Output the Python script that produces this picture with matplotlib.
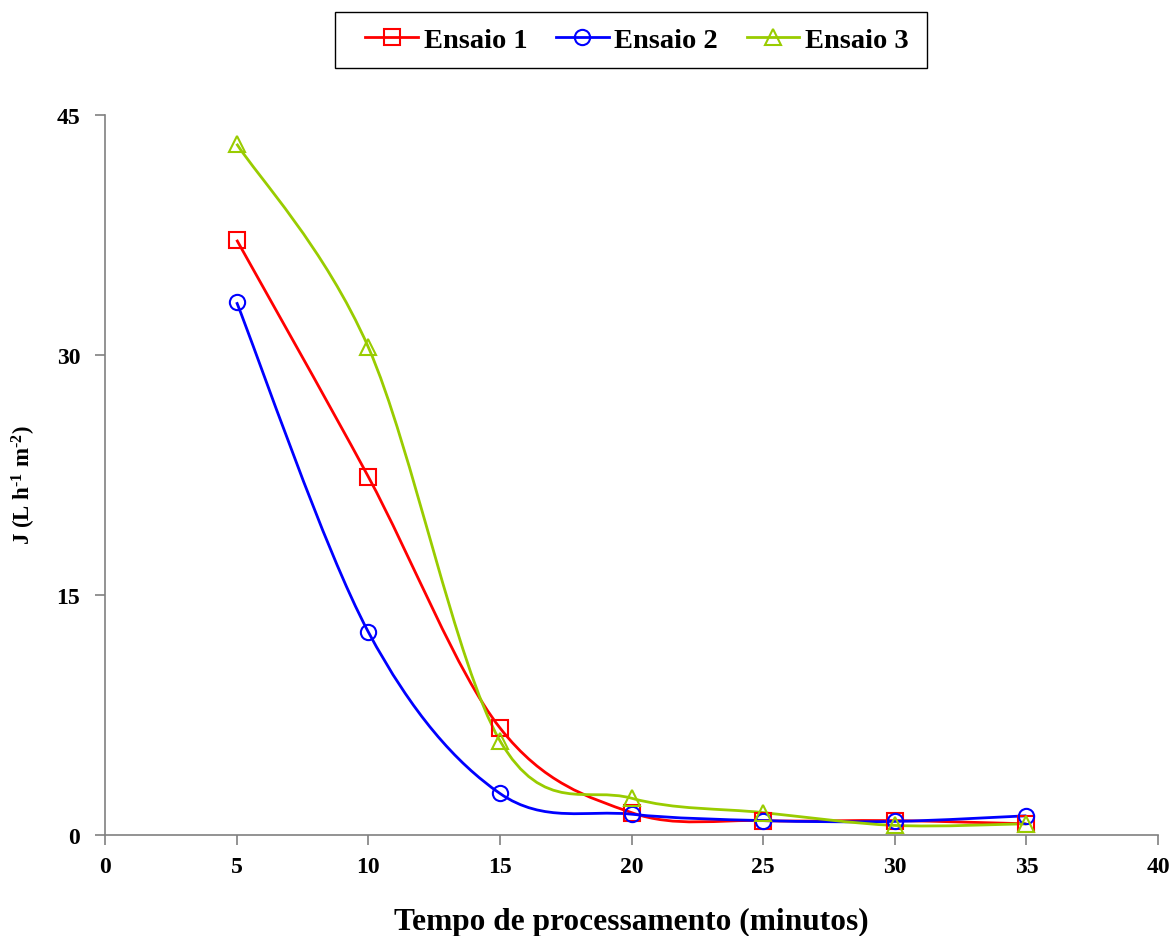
import numpy as np
import matplotlib
matplotlib.use("Agg")
import matplotlib.pyplot as plt
from matplotlib.path import Path
from matplotlib.patches import PathPatch, Rectangle
from matplotlib.lines import Line2D

plt.rcParams['font.family'] = ['Liberation Serif', 'DejaVu Serif']
plt.rcParams['font.weight'] = 'bold'
plt.rcParams['mathtext.fontset'] = 'custom'
plt.rcParams['mathtext.rm'] = 'Liberation Serif:bold'
plt.rcParams['mathtext.it'] = 'Liberation Serif:bold'
plt.rcParams['mathtext.bf'] = 'Liberation Serif:bold'

tempo = [5, 10, 15, 20, 25, 30, 35]
ensaio1 = [37.2, 22.4, 6.7, 1.4, 0.9, 0.9, 0.7]
ensaio2 = [33.3, 12.7, 2.6, 1.3, 0.9, 0.85, 1.2]
ensaio3 = [43.2, 30.5, 5.9, 2.3, 1.4, 0.6, 0.7]
series = [("Ensaio 1", ensaio1, "#FF0000", "s"),
          ("Ensaio 2", ensaio2, "#0000FF", "o"),
          ("Ensaio 3", ensaio3, "#99CC00", "^")]

W, H = 1173, 937
fig = plt.figure(figsize=(W/100, H/100), dpi=100)
ax = fig.add_axes([105/W, 1-836/H, (1158-105)/W, (836-116)/H])


def smooth_path(x, y):
    # Excel-like smoothed line: cubic Bezier segments through the points
    x = np.asarray(x, float); y = np.asarray(y, float)
    n = len(x)
    verts = [(x[0], y[0])]
    codes = [Path.MOVETO]
    for i in range(n - 1):
        p0 = np.array([x[max(i-1, 0)], y[max(i-1, 0)]])
        p1 = np.array([x[i], y[i]])
        p2 = np.array([x[i+1], y[i+1]])
        p3 = np.array([x[min(i+2, n-1)], y[min(i+2, n-1)]])
        c1 = p1 + (p2 - p0) / 6.0
        c2 = p2 - (p3 - p1) / 6.0
        verts += [tuple(c1), tuple(c2), tuple(p2)]
        codes += [Path.CURVE4] * 3
    return Path(verts, codes)


handles = []
for name, vals, col, mk in series:
    patch = PathPatch(smooth_path(tempo, vals), facecolor='none', edgecolor=col,
                      lw=2.0, transform=ax.transData, zorder=2)
    ax.add_patch(patch)
    ax.plot(tempo, vals, linestyle='none', marker=mk, markersize=11,
            markerfacecolor='none', markeredgecolor=col, markeredgewidth=1.5, zorder=3)
    handles.append(Line2D([], [], color=col, lw=2.0, marker=mk, markersize=11,
                          markerfacecolor='none', markeredgecolor=col, markeredgewidth=1.5))

ax.set_xlim(0, 40)
ax.set_ylim(0, 45)
ax.set_xticks(range(0, 41, 5))
ax.set_yticks([0, 15, 30, 45])
ax.spines['top'].set_visible(False)
ax.spines['right'].set_visible(False)
for s in ('left', 'bottom'):
    ax.spines[s].set_color('#808080')
    ax.spines[s].set_linewidth(1.2)
ax.tick_params(axis='both', direction='out', length=7, width=1.2, color='#808080',
               labelsize=17)
ax.tick_params(axis='y', pad=10.8)
ax.tick_params(axis='x', pad=8)
for lab in ax.get_xticklabels() + ax.get_yticklabels():
    lab.set_fontweight('bold')

ax.set_xlabel('Tempo de processamento (minutos)', fontsize=22.6, fontweight='bold')
ax.xaxis.set_label_coords(0.5, (836-908)/720)
ax.set_ylabel(r'J (L h$^{\text{-1}}$ m$^{\text{-2}}$)', fontsize=16.5, fontweight='bold')
ax.yaxis.set_label_coords((38-105)/1053, (836-485)/720)

# legend frame
fig.patches.append(Rectangle((335/W, 1-69/H), (927-335)/W, (69-13)/H,
                             transform=fig.transFigure, facecolor='white',
                             edgecolor='black', lw=1.0, zorder=0))
leg = fig.legend(handles, [s[0] for s in series], loc='center', bbox_to_anchor=(637/W, 1-41/H),
                 ncol=3, frameon=False, fontsize=20.5,
                 handlelength=1.85, columnspacing=1.0, handletextpad=0.2, borderpad=0.2,
                 borderaxespad=0)
for t in leg.get_texts():
    t.set_fontweight('bold')

fig.savefig('out.png', dpi=100)
